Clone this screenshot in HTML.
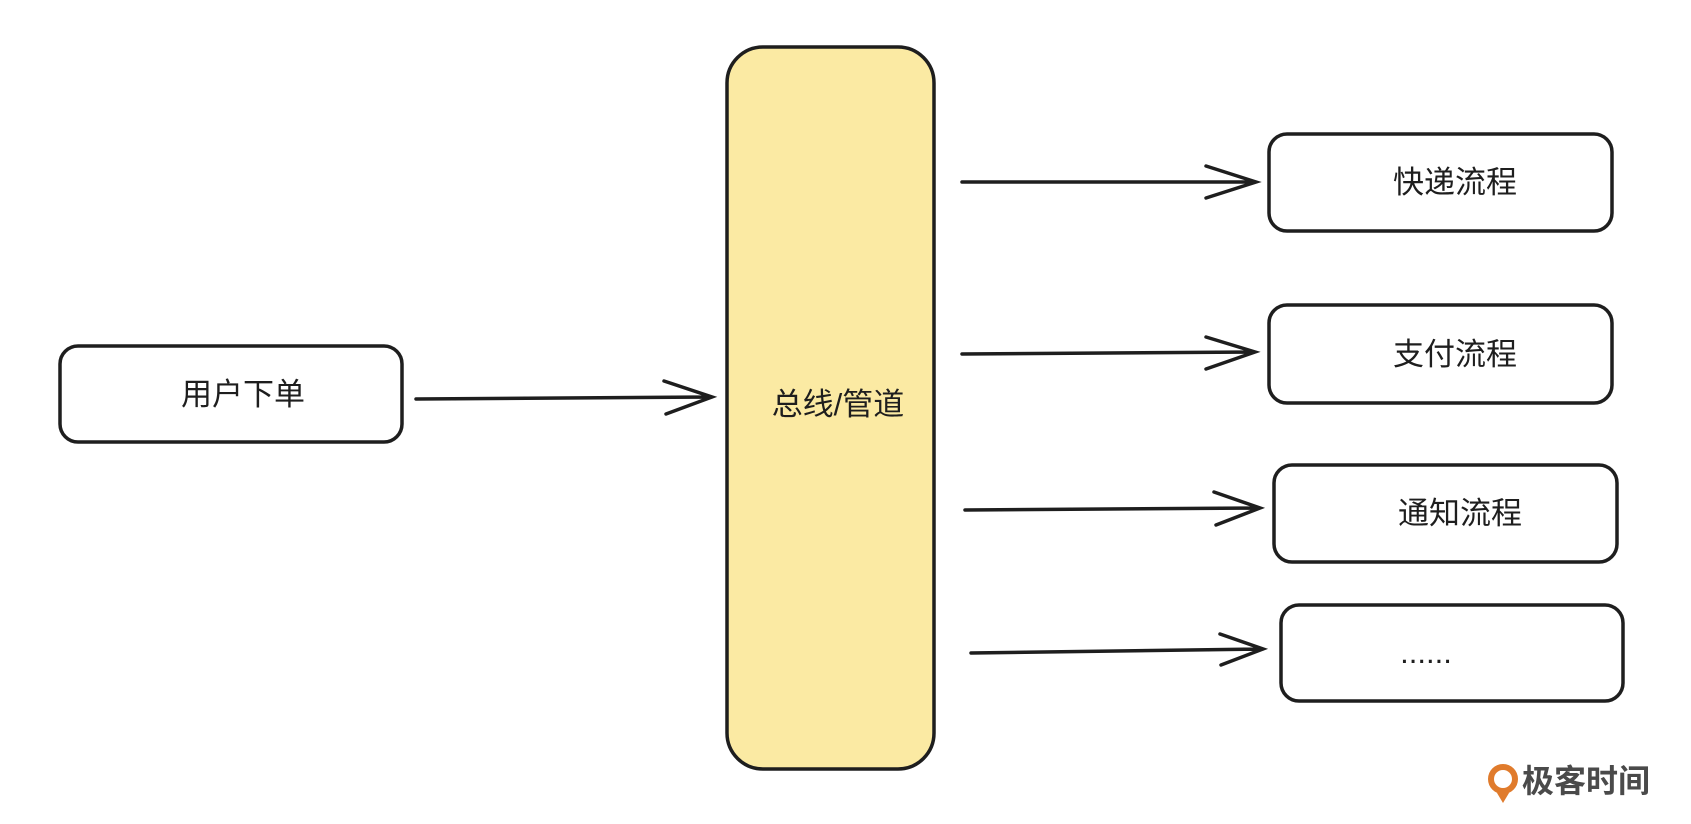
<!DOCTYPE html>
<html><head><meta charset="utf-8"><style>
html,body{margin:0;padding:0;background:#fff;}
body{width:1691px;height:824px;overflow:hidden;position:relative;font-family:"Liberation Sans","Noto Sans CJK SC",sans-serif;}
svg{position:absolute;left:0;top:0;}
text{font-family:"Liberation Sans","Noto Sans CJK SC",sans-serif;font-size:31px;fill:#1e1e1e;}
</style></head><body>
<svg width="1691" height="824" viewBox="0 0 1691 824">
<g>
<rect x="60" y="346" width="342" height="96" rx="18" fill="#fff" stroke="#1e1e1e" stroke-width="3.5"/>
<text x="243" y="405" text-anchor="middle">用户下单</text></g>
<g>
<rect x="727" y="47" width="207" height="722" rx="36" fill="#fbeaa3" stroke="#1e1e1e" stroke-width="3.5"/>
<text x="838" y="415" text-anchor="middle">总线/管道</text></g>
<g>
<rect x="1269" y="134" width="343" height="97" rx="18" fill="#fff" stroke="#1e1e1e" stroke-width="3.5"/>
<text x="1455" y="193" text-anchor="middle">快递流程</text></g>
<g>
<rect x="1269" y="305" width="343" height="98" rx="18" fill="#fff" stroke="#1e1e1e" stroke-width="3.5"/>
<text x="1455" y="365" text-anchor="middle">支付流程</text></g>
<g>
<rect x="1274" y="465" width="343" height="97" rx="18" fill="#fff" stroke="#1e1e1e" stroke-width="3.5"/>
<text x="1460" y="524" text-anchor="middle">通知流程</text></g>
<g>
<rect x="1281" y="605" width="342" height="96" rx="18" fill="#fff" stroke="#1e1e1e" stroke-width="3.5"/>
<text x="1426" y="663" text-anchor="middle">......</text></g>
<g fill="none" stroke="#1e1e1e" stroke-width="3.5" stroke-linecap="round">
<g><path d="M416 399 L712 397 M664 381 L712 397 L666 414"/></g>
<g><path d="M962 182 L1256 182 M1206 166 L1256 182 L1206 198"/></g>
<g><path d="M962 354 L1255 352 M1206 337 L1255 352 L1206 369"/></g>
<g><path d="M965 510 L1260 508 M1214 492 L1260 508 L1216 525"/></g>
<g><path d="M971 653 L1263 649 M1220 634 L1263 649 L1221 665"/></g>
</g>
<g>
<circle cx="1503" cy="779" r="12" fill="none" stroke="#e07b2c" stroke-width="6"/>
<path d="M1497 793 L1509 793 L1503 803 Z" fill="#e07b2c"/>
<text x="1522" y="792" style="fill:#4a4a4a;font-size:32px;font-weight:bold;">极客时间</text>
</g>
</svg>
</body></html>
